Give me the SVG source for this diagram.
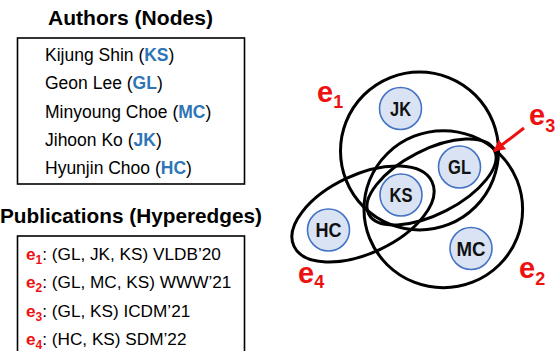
<svg xmlns="http://www.w3.org/2000/svg" width="559" height="351" viewBox="0 0 559 351">
  <defs>
    <style>
      .title { font-family: "Liberation Sans", Arial, sans-serif; font-weight: bold; font-size: 21px; fill: #000; }
      .item { font-family: "Liberation Sans", Arial, sans-serif; font-size: 17.5px; fill: #000; }
      .pub { font-family: "Liberation Sans", Arial, sans-serif; font-size: 17.2px; fill: #000; }
      .abbr { font-weight: bold; fill: #2E75B6; }
      .e { font-weight: bold; fill: #EE1111; }
      .panel { fill: #fff; stroke: #000; stroke-width: 1.6; }
      .edge { fill: none; stroke: #000; stroke-width: 3; }
      .node circle { fill: #DAE3F3; stroke: #4472C4; stroke-width: 1.6; }
      .node text { font-family: "Liberation Sans", Arial, sans-serif; font-weight: bold; font-size: 20px; fill: #111; text-anchor: middle; }
      .elabel { font-family: "Liberation Sans", Arial, sans-serif; font-weight: bold; font-size: 29px; fill: #EE1111; }
      .elabel tspan.sub { font-size: 18px; }
    </style>
    <marker id="arrowhead" viewBox="0 0 10 10" refX="9" refY="5" markerWidth="4" markerHeight="4" orient="auto" markerUnits="strokeWidth">
      <path d="M0,0 L10,5 L0,10 z" fill="#EE1111"/>
    </marker>
  </defs>

  <!-- Authors panel -->
  <g id="authors">
    <text class="title" x="48" y="25" textLength="165" lengthAdjust="spacingAndGlyphs">Authors (Nodes)</text>
    <rect class="panel" x="17.5" y="38" width="227" height="146"/>
    <text class="item" x="45" y="61">Kijung Shin (<tspan class="abbr">KS</tspan>)</text>
    <text class="item" x="45" y="89.3">Geon Lee (<tspan class="abbr">GL</tspan>)</text>
    <text class="item" x="45" y="117.7">Minyoung Choe (<tspan class="abbr">MC</tspan>)</text>
    <text class="item" x="45" y="146">Jihoon Ko (<tspan class="abbr">JK</tspan>)</text>
    <text class="item" x="45" y="174.3">Hyunjin Choo (<tspan class="abbr">HC</tspan>)</text>
  </g>

  <!-- Publications panel -->
  <g id="publications">
    <text class="title" x="0" y="223" textLength="262" lengthAdjust="spacingAndGlyphs">Publications (Hyperedges)</text>
    <rect class="panel" x="17.5" y="236" width="227" height="130"/>
    <text class="pub" x="26" y="260"><tspan class="e">e</tspan><tspan class="e" font-size="12" dy="4">1</tspan><tspan dy="-4">: (GL, JK, KS) VLDB’20</tspan></text>
    <text class="pub" x="26" y="288.3"><tspan class="e">e</tspan><tspan class="e" font-size="12" dy="4">2</tspan><tspan dy="-4">: (GL, MC, KS) WWW’21</tspan></text>
    <text class="pub" x="26" y="316.7"><tspan class="e">e</tspan><tspan class="e" font-size="12" dy="4">3</tspan><tspan dy="-4">: (GL, KS) ICDM’21</tspan></text>
    <text class="pub" x="26" y="345"><tspan class="e">e</tspan><tspan class="e" font-size="12" dy="4">4</tspan><tspan dy="-4">: (HC, KS) SDM’22</tspan></text>
  </g>

  <!-- Hypergraph nodes -->
  <g id="node-JK" class="node"><circle cx="400.5" cy="108.5" r="21"/><text x="400.5" y="115.5" textLength="21" lengthAdjust="spacingAndGlyphs">JK</text></g>
  <g id="node-GL" class="node"><circle cx="459.5" cy="167" r="21"/><text x="459.5" y="174" textLength="23" lengthAdjust="spacingAndGlyphs">GL</text></g>
  <g id="node-KS" class="node"><circle cx="401" cy="195" r="21"/><text x="401" y="202" textLength="23" lengthAdjust="spacingAndGlyphs">KS</text></g>
  <g id="node-HC" class="node"><circle cx="328.5" cy="230" r="21"/><text x="328.5" y="237" textLength="26" lengthAdjust="spacingAndGlyphs">HC</text></g>
  <g id="node-MC" class="node"><circle cx="471" cy="248.5" r="21"/><text x="471" y="255.5" textLength="29" lengthAdjust="spacingAndGlyphs">MC</text></g>

  <!-- Hyperedges and pointer -->
  <g id="connectors">
    <circle id="e1" class="edge" cx="419.5" cy="151" r="79"/>
    <ellipse id="e2" class="edge" cx="443.3" cy="209.2" rx="79.3" ry="78.5"/>
    <ellipse id="e3" class="edge" cx="431.5" cy="182" rx="70.5" ry="32.2" transform="rotate(-27 431.5 182)"/>
    <ellipse id="e4" class="edge" cx="363" cy="214" rx="76.2" ry="39.3" transform="rotate(-25 363 214)"/>
    <line x1="524" y1="128" x2="494" y2="151" stroke="#EE1111" stroke-width="3" marker-end="url(#arrowhead)"/>
  </g>

  <!-- Hyperedge labels -->
  <g id="edge-labels">
    <text class="elabel" x="317" y="102">e<tspan class="sub" dy="6">1</tspan></text>
    <text class="elabel" x="519" y="278">e<tspan class="sub" dy="7">2</tspan></text>
    <text class="elabel" x="529" y="125">e<tspan class="sub" dy="7">3</tspan></text>
    <text class="elabel" x="298" y="283">e<tspan class="sub" dy="5">4</tspan></text>
  </g>
</svg>
